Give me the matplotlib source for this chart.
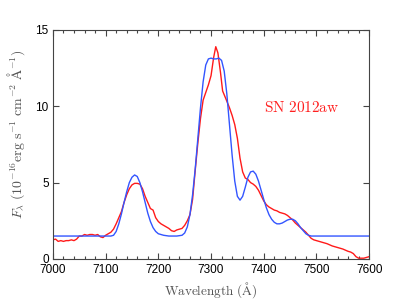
import matplotlib
matplotlib.use("Agg")
import matplotlib.pyplot as plt
from matplotlib.ticker import MultipleLocator

obs_wave = [7000, 7005, 7010, 7015, 7020, 7025, 7030, 7035, 7040, 7045,
            7050, 7055, 7060, 7065, 7070, 7075, 7080, 7085, 7090, 7095,
            7100, 7105, 7110, 7115, 7120, 7125, 7130, 7135, 7140, 7145,
            7150, 7155, 7160, 7165, 7170, 7175, 7180, 7185, 7190, 7195,
            7200, 7205, 7210, 7215, 7220, 7225, 7230, 7235, 7240, 7245,
            7250, 7255, 7260, 7265, 7270, 7275, 7280, 7285, 7290, 7295,
            7300, 7305, 7309, 7313, 7318, 7322, 7328, 7335, 7340, 7345,
            7350, 7355, 7360, 7365, 7370, 7375, 7380, 7385, 7390, 7395,
            7400, 7405, 7410, 7415, 7420, 7425, 7430, 7435, 7440, 7445,
            7450, 7455, 7460, 7465, 7470, 7475, 7480, 7485, 7490, 7495,
            7500, 7510, 7520, 7530, 7540, 7550, 7560, 7565, 7570, 7575,
            7580, 7590, 7600]
obs_flux = [1.25, 1.3, 1.15, 1.2, 1.15, 1.2, 1.2, 1.25, 1.2, 1.3,
            1.5, 1.5, 1.6, 1.55, 1.6, 1.6, 1.55, 1.6, 1.45, 1.4,
            1.55, 1.65, 1.75, 1.95, 2.3, 2.7, 3.1, 3.7, 4.2, 4.6,
            4.85, 4.95, 4.95, 4.9, 4.6, 4.1, 3.7, 3.3, 3.2, 2.7,
            2.45, 2.3, 2.2, 2.1, 2.0, 1.85, 1.8, 1.9, 1.95, 2.0,
            2.2, 2.5, 2.9, 3.9, 5.8, 7.6, 9.2, 10.4, 10.9, 11.4,
            12.0, 13.2, 13.9, 13.5, 12.2, 11.0, 10.5, 9.9, 9.4, 8.8,
            7.9, 6.6, 5.7, 5.3, 5.2, 5.0, 4.9, 4.75, 4.5, 4.15,
            3.8, 3.55, 3.4, 3.3, 3.2, 3.15, 3.05, 3.0, 2.95, 2.85,
            2.7, 2.55, 2.35, 2.2, 2.05, 1.9, 1.75, 1.55, 1.35, 1.25,
            1.2, 1.1, 1.0, 0.85, 0.75, 0.65, 0.5, 0.45, 0.35, 0.15,
            0.05, 0.05, 0.15]

# model fit (blue)
mod_wave = [7000, 7110, 7115, 7120, 7125, 7130, 7135, 7140, 7145, 7150,
            7155, 7160, 7165, 7170, 7175, 7180, 7185, 7190, 7195, 7200,
            7210, 7220, 7235, 7245, 7250, 7255, 7260, 7265, 7270, 7275,
            7280, 7285, 7290, 7295, 7300, 7305, 7310, 7315, 7320, 7325,
            7330, 7335, 7340, 7345, 7350, 7355, 7360, 7365, 7370, 7375,
            7380, 7385, 7390, 7395, 7400, 7405, 7410, 7415, 7420, 7425,
            7430, 7435, 7440, 7445, 7450, 7455, 7460, 7465, 7470, 7475,
            7480, 7485, 7490, 7600]
mod_flux = [1.5, 1.5, 1.55, 1.8, 2.3, 2.95, 3.7, 4.4, 5.0, 5.35,
            5.5, 5.4, 5.0, 4.4, 3.7, 3.0, 2.45, 2.05, 1.8, 1.65,
            1.55, 1.5, 1.5, 1.55, 1.7, 2.1, 2.9, 4.2, 5.9, 7.9,
            9.9, 11.6, 12.7, 13.1, 13.15, 13.1, 13.1, 13.15, 13.0, 12.3,
            10.8, 8.8, 6.8, 5.1, 4.1, 3.85, 4.1, 4.7, 5.35, 5.7,
            5.75, 5.55, 5.1, 4.5, 3.9, 3.35, 2.9, 2.6, 2.4, 2.3,
            2.3, 2.35, 2.45, 2.55, 2.6, 2.6, 2.5, 2.3, 2.05, 1.85,
            1.65, 1.55, 1.5, 1.5]

plt.rcParams['mathtext.fontset'] = 'cm'

fig = plt.figure(figsize=(4.07, 3.05), dpi=100)
ax = fig.add_axes([0.130, 0.151, 0.777, 0.751])

ax.plot(obs_wave, obs_flux, color='#ff1a1a', lw=1.0)
ax.plot(mod_wave, mod_flux, color='#3355ff', lw=1.0)

ax.text(7401, 9.95, r'$\mathrm{SN\ 2012aw}$', color='#ff2020',
        fontsize=11, ha='left', va='center')

ax.set_xlim(7000, 7600)
ax.set_ylim(0, 15)
ax.xaxis.set_major_locator(MultipleLocator(100))
ax.xaxis.set_minor_locator(MultipleLocator(20))
ax.yaxis.set_major_locator(MultipleLocator(5))

ax.tick_params(which='both', direction='in', top=True, right=True,
               labelsize=8.5, color='#444444', width=0.8)
ax.tick_params(which='major', length=4)
ax.tick_params(which='minor', length=2)
ax.tick_params(axis='y', pad=3)
for lab in ax.get_xticklabels() + ax.get_yticklabels():
    lab.set_family('Liberation Sans')
for s in ax.spines.values():
    s.set_color('#444444')
    s.set_linewidth(0.8)

ax.set_xlabel(r'$\mathrm{Wavelength\ (\AA)}$', fontsize=9.5, color='#555555')
ax.xaxis.set_label_coords(0.5, -0.095)
ax.set_ylabel(r'$F_\lambda\ (10^{-16}\mathrm{erg\ s^{-1}\ cm^{-2}\ \AA^{-1}})$',
              fontsize=10, color='#555555')
ax.yaxis.set_label_coords(-0.082, 0.546)

fig.savefig('out.png', dpi=100)
